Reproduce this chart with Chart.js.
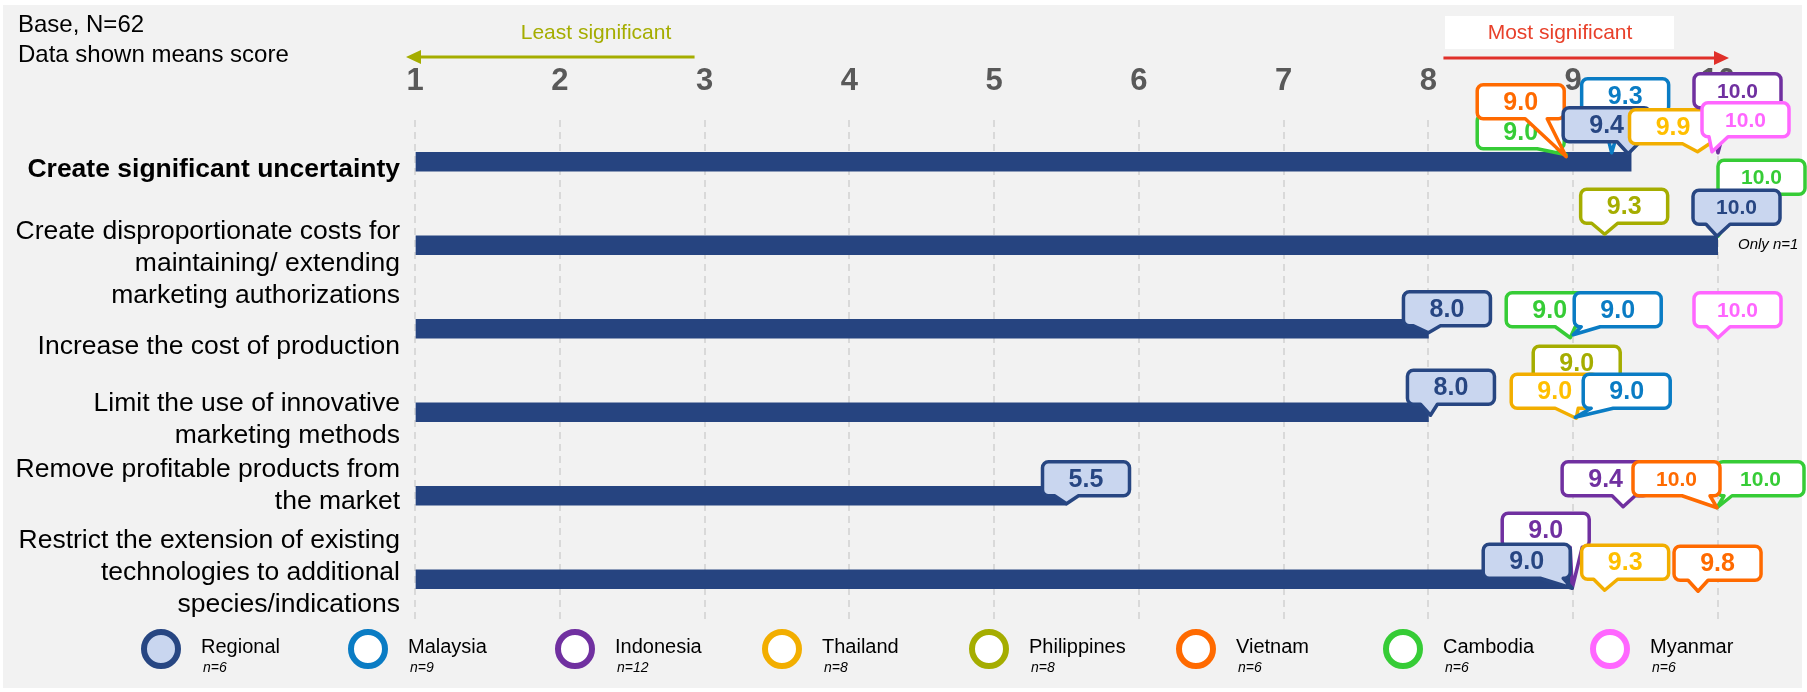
<!DOCTYPE html>
<html lang="en">
<head>
<meta charset="UTF-8" />
<title>Impact of regulation</title>
<script src="https://cdn.jsdelivr.net/npm/chart.js@4.4.1/dist/chart.umd.min.js"></script>
<style>
  * { margin: 0; padding: 0; box-sizing: border-box; }
  body { background: #ffffff; }
  .wrapper { position: relative; width: 1807px; height: 692px; }
</style>
</head>
<body>
<div class="wrapper"><canvas id="chart"></canvas></div>
<script>
const categories = [
  "Create significant uncertainty",
  ["Create disproportionate costs for", "maintaining/ extending", "marketing authorizations"],
  "Increase the cost of production",
  ["Limit the use of innovative", "marketing methods"],
  ["Remove profitable products from", "the market"],
  ["Restrict the extension of existing", "technologies to additional", "species/indications"]
];
const xTicks = [1, 2, 3, 4, 5, 6, 7, 8, 9, 10];

// mean scores, one per statement (null = not shown)
const regional    = [9.4, 10.0, 8.0, 8.0, 5.5, 9.0];
const malaysia    = [9.3, null, 9.0, 9.0, null, null];
const indonesia   = [10.0, null, null, null, 9.4, 9.0];
const thailand    = [9.9, null, null, 9.0, null, 9.3];
const philippines = [null, 9.3, null, 9.0, null, null];
const vietnam     = [9.0, null, null, null, 10.0, 9.8];
const cambodia    = [9.0, 10.0, 9.0, null, 10.0, null];
const myanmar     = [10.0, null, 10.0, null, null, null];

const countries   = ["Regional", "Malaysia", "Indonesia", "Thailand", "Philippines", "Vietnam", "Cambodia", "Myanmar"];
const sampleSizes = [6, 9, 12, 8, 8, 6, 6, 6];

const series = {
  Regional: regional, Malaysia: malaysia, Indonesia: indonesia, Thailand: thailand,
  Philippines: philippines, Vietnam: vietnam, Cambodia: cambodia, Myanmar: myanmar
};
const strokeColors = {
  Regional: "#274682", Malaysia: "#0a7cc4", Indonesia: "#7030a0", Thailand: "#f2ae00",
  Philippines: "#a5ad00", Vietnam: "#ff6a00", Cambodia: "#36cc36", Myanmar: "#ff66ff"
};
const textColors = Object.assign({}, strokeColors, { Thailand: "#ffbf00" });

// vertical nudge of each statement label from its bar centre
const labelNudge = [8, 18, 18, 7, -10, -7];

// callout placement, in draw order:
// country, row, box dx, box dy, tip dx, tip dy (from value point on bar centre), tail base from/to (box x)
const calloutLayout = [
  ["Cambodia", 0, -96, -47, -7, -7, 60, 83],
  ["Vietnam", 0, -96, -77, -7, -5, 48, 70],
  ["Malaysia", 0, -35, -83, -5, -9, 20, 42],
  ["Regional", 0, -68, -54, -3, -8, 54, 77],
  ["Thailand", 0, -74, -52, -6, -10, 53, 80],
  ["Indonesia", 0, -24, -88, 0, -9, 14, 36],
  ["Myanmar", 0, -16, -59, -6, -10, 6, 26],

  ["Cambodia", 1, 0, -85, 0, -9, 10, 30],
  ["Philippines", 1, -36, -56, -12, -11, 11, 37],
  ["Regional", 1, -25, -55, -1, -9, 13, 37],

  ["Regional", 2, -25, -37, 0, 4, 10, 37],
  ["Cambodia", 2, -67, -36, -3, 9, 49, 69],
  ["Malaysia", 2, 1, -36, 0, 6, 6, 26],
  ["Myanmar", 2, -24, -36, 0, 9, 13, 36],

  ["Regional", 3, -21, -42, 2, 3, 13, 30],
  ["Philippines", 3, -40, -66, 0, 3, 32, 52],
  ["Thailand", 3, -62, -38, 3, 6, 44, 67],
  ["Malaysia", 3, 10, -38, 2, 5, 8, 30],

  ["Regional", 4, -24, -34, 0, 8, 12, 36],
  ["Indonesia", 4, -69, -34, -8, 11, 50, 73],
  ["Cambodia", 4, -1, -34, -1, 12, 3, 15],
  ["Vietnam", 4, -85, -34, -1, 12, 49, 77],

  ["Indonesia", 5, -71, -66, -1, 9, 68, 84],
  ["Regional", 5, -90, -35, -1, 9, 57, 84],
  ["Thailand", 5, -35, -34, -12, 11, 12, 36],
  ["Vietnam", 5, -15, -33, 9, 12, 14, 34]
];

const FONT = "'Liberation Sans', Arial, sans-serif";
Chart.defaults.font.family = FONT;

function drawCallout(ctx, left, top, tipX, tipY, b1, b2, name, text) {
  const w = 87, h = 34, r = 6;
  b1 = Math.max(b1, r + 1);
  b2 = Math.min(b2, w - r - 1);
  const right = left + w, bottom = top + h;
  ctx.save();
  ctx.beginPath();
  ctx.moveTo(left + r, top);
  ctx.lineTo(right - r, top);
  ctx.arcTo(right, top, right, top + r, r);
  ctx.lineTo(right, bottom - r);
  ctx.arcTo(right, bottom, right - r, bottom, r);
  ctx.lineTo(left + b2, bottom);
  ctx.lineTo(tipX, tipY);
  ctx.lineTo(left + b1, bottom);
  ctx.lineTo(left + r, bottom);
  ctx.arcTo(left, bottom, left, bottom - r, r);
  ctx.lineTo(left, top + r);
  ctx.arcTo(left, top, left + r, top, r);
  ctx.closePath();
  ctx.fillStyle = name === "Regional" ? "#c9d6ef" : "#ffffff";
  ctx.fill();
  ctx.lineWidth = 3.5;
  ctx.lineJoin = "round";
  ctx.strokeStyle = strokeColors[name];
  ctx.stroke();
  ctx.fillStyle = textColors[name];
  ctx.font = "bold " + (text.length > 3 ? 21 : 25) + "px " + FONT;
  ctx.textAlign = "center";
  ctx.textBaseline = "middle";
  ctx.fillText(text, left + w / 2, top + h / 2 + 1);
  ctx.restore();
}

function arrow(ctx, x1, x2, y, color) {
  // line from x1 to x2 with head at x2
  const dir = x2 > x1 ? 1 : -1;
  ctx.strokeStyle = color;
  ctx.fillStyle = color;
  ctx.lineWidth = 3;
  ctx.beginPath();
  ctx.moveTo(x1, y);
  ctx.lineTo(x2 - dir * 12, y);
  ctx.stroke();
  ctx.beginPath();
  ctx.moveTo(x2, y);
  ctx.lineTo(x2 - dir * 15, y - 7);
  ctx.lineTo(x2 - dir * 15, y + 7);
  ctx.closePath();
  ctx.fill();
}

const decorPlugin = {
  id: "decor",
  beforeDraw(chart) {
    const ctx = chart.ctx;
    ctx.save();
    ctx.fillStyle = "#ffffff";
    ctx.fillRect(0, 0, chart.width, chart.height);
    ctx.fillStyle = "#f2f2f2";
    ctx.fillRect(3, 5, 1799, 683);

    const x = chart.scales.x, y = chart.scales.y;
    // header notes
    ctx.fillStyle = "#000000";
    ctx.font = "24px " + FONT;
    ctx.textAlign = "left";
    ctx.textBaseline = "middle";
    ctx.fillText("Base, N=62", 18, 25);
    ctx.fillText("Data shown means score", 18, 55);

    // least / most significant arrows
    ctx.font = "21px " + FONT;
    ctx.textAlign = "center";
    ctx.fillStyle = "#a5ad00";
    ctx.fillText("Least significant", 596, 33);
    arrow(ctx, x.getPixelForValue(3) - 10, x.getPixelForValue(1) - 9, 57, "#a5ad00");

    ctx.fillStyle = "#ffffff";
    ctx.fillRect(1445, 16, 229, 33);
    ctx.fillStyle = "#e8402a";
    ctx.fillText("Most significant", 1560, 33);
    arrow(ctx, x.getPixelForValue(8) + 15, x.getPixelForValue(10) + 11, 58, "#e0302a");

    // statement labels, right aligned against the value axis
    ctx.fillStyle = "#000000";
    ctx.textAlign = "right";
    categories.forEach((lab, i) => {
      const lines = Array.isArray(lab) ? lab : [lab];
      const lh = 32;
      const cy = y.getPixelForValue(i) + labelNudge[i];
      ctx.font = (i === 0 ? "bold " : "") + "26.5px " + FONT;
      lines.forEach((t, k) => {
        ctx.fillText(t, y.right - 15, cy + (k - (lines.length - 1) / 2) * lh);
      });
    });
    ctx.restore();
  },
  afterDatasetsDraw(chart) {
    const ctx = chart.ctx, x = chart.scales.x, y = chart.scales.y;
    for (const [name, row, bx, by, tdx, tdy, b1, b2] of calloutLayout) {
      const v = series[name][row];
      if (v == null) continue;
      const ax = x.getPixelForValue(v), ay = y.getPixelForValue(row);
      drawCallout(ctx, ax + bx, ay + by, ax + tdx, ay + tdy, b1, b2, name, v.toFixed(1));
    }

    ctx.save();
    ctx.fillStyle = "#000000";
    ctx.font = "italic 15px " + FONT;
    ctx.textAlign = "left";
    ctx.textBaseline = "middle";
    ctx.fillText("Only n=1", x.getPixelForValue(10) + 20, y.getPixelForValue(1));

    // legend
    countries.forEach((name, i) => {
      const cx = 161 + i * 207, cy = 649;
      ctx.beginPath();
      ctx.arc(cx, cy, 17, 0, Math.PI * 2);
      ctx.fillStyle = name === "Regional" ? "#c9d6ef" : "#ffffff";
      ctx.fill();
      ctx.lineWidth = 6;
      ctx.strokeStyle = strokeColors[name];
      ctx.stroke();
      ctx.fillStyle = "#000000";
      ctx.font = "20px " + FONT;
      ctx.fillText(name, cx + 40, cy - 2);
      ctx.font = "italic 14px " + FONT;
      ctx.fillText("n=" + sampleSizes[i], cx + 42, cy + 19);
    });
    ctx.restore();
  }
};

new Chart(document.getElementById("chart"), {
  type: "bar",
  data: {
    labels: categories,
    datasets: [{
      label: "Regional",
      data: regional,
      base: 1,
      backgroundColor: "#264480",
      barThickness: 19
    }]
  },
  options: {
    indexAxis: "y",
    responsive: true,
    maintainAspectRatio: false,
    animation: false,
    layout: { padding: { left: 10, right: 89, top: 0, bottom: 71 } },
    plugins: { legend: { display: false }, tooltip: { enabled: false } },
    scales: {
      x: {
        type: "linear",
        position: "top",
        min: 1,
        max: 10,
        afterFit: (s) => { s.height = 120; },
        afterBuildTicks: (s) => { s.ticks = xTicks.map((v) => ({ value: v })); },
        ticks: { padding: 20, color: "#595959", font: { size: 31, weight: "bold" } },
        grid: { color: "#d9d9d9", lineWidth: 2, drawTicks: false },
        border: { display: false, dash: [7, 5] }
      },
      y: {
        afterFit: (s) => { s.width = 405; },
        ticks: { display: false },
        grid: { display: false, drawTicks: false },
        border: { display: false }
      }
    }
  },
  plugins: [decorPlugin]
});
</script>
</body>
</html>
